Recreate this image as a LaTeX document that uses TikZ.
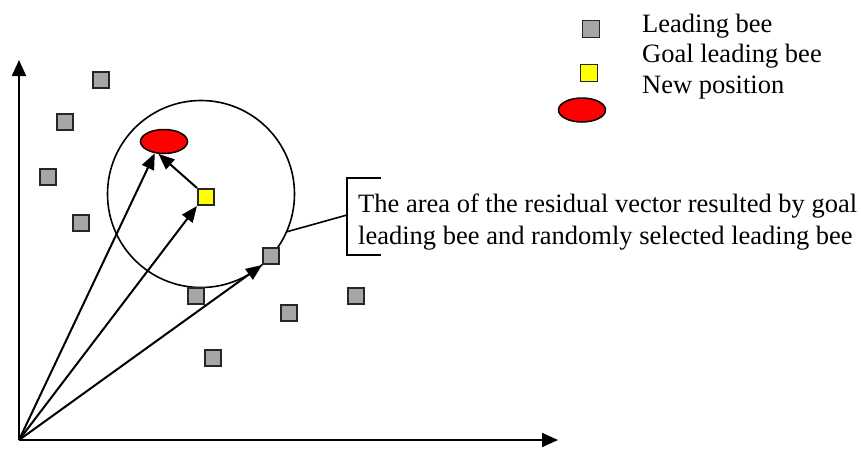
\documentclass[tikz,border=0pt]{standalone}
\usepackage{fontspec}
\setmainfont{Liberation Serif}
\usetikzlibrary{arrows.meta,shapes.geometric}
\definecolor{beegray}{HTML}{A6A6A6}
\definecolor{beeyellow}{HTML}{FFFF00}
\definecolor{beered}{HTML}{FF0000}
\begin{document}
\begin{tikzpicture}[x={(1pt,0)},y={(0,-1pt)},
  lead/.style={draw=black!85,line width=1.6pt,fill=beegray,minimum size=16.5pt,inner sep=0pt},
  goal/.style={draw=black!85,line width=1.6pt,fill=beeyellow,minimum size=16.5pt,inner sep=0pt},
  newpos/.style={ellipse,draw=black,line width=1.5pt,fill=beered,minimum width=47pt,minimum height=24pt,inner sep=0pt},
  txt/.style={font=\fontsize{26.5}{30}\selectfont,inner sep=0pt,anchor=base west},
  vec/.style={line width=2pt,-{Triangle[length=16pt,width=13pt]}},
  axis/.style={line width=2pt,-{Triangle[length=16pt,width=14pt]}},
  thin/.style={line width=1.6pt}]
\useasboundingbox (0,0) rectangle (861,448);
% axes
\coordinate (O) at (19,440);
\coordinate (ytop) at (19,60);
\coordinate (xend) at (558,440);
\draw[axis] (O) -- (ytop);
\draw[axis] (O) -- (xend);
% circle
\node[circle,draw,thin,minimum size=187pt,inner sep=0pt] (area) at (201,194) {};
% leading bees
\node[lead] (g1) at (101,80) {};
\node[lead] (g2) at (65,122) {};
\node[lead] (g3) at (48,177) {};
\node[lead] (g4) at (81,223) {};
\node[lead] (g5) at (196,296) {};
\node[lead] (g6) at (271,256) {};
\node[lead] (g7) at (289,313) {};
\node[lead] (g8) at (356,296) {};
\node[lead] (g9) at (213,358) {};
% goal bee
\node[goal] (goal) at (206,197) {};
% new position
\node[newpos] (new) at (164,141.5) {};
% vectors
\draw[vec] (O) -- (new.232);
\draw[vec] (goal.north west) -- (new.246);
\draw[vec] (O) -- (goal.south west);
\draw[vec] (O) -- (g6.south west);
% callout
\coordinate (cA) at (286,232);
\coordinate (cB) at (347,215);
\coordinate (bt) at (347,178);
\coordinate (bb) at (347,255);
\coordinate (btr) at (381,178);
\coordinate (bbr) at (381,255);
\draw[thin] (cA) -- (cB);
\draw[thin] (btr) -- (bt) -- (bb) -- (bbr);
\node[txt] (c1) at (358,212) {The area of the residual vector resulted by goal};
\node[txt] (c2) at (358,244) {leading bee and randomly selected leading bee};
% legend
\node[lead,minimum size=17pt] (lg1) at (591,29) {};
\node[goal,minimum size=17pt] (lg2) at (589,73) {};
\node[newpos] (lg3) at (582,110) {};
\node[txt] (l1) at (642,32) {Leading bee};
\node[txt] (l2) at (642,62) {Goal leading bee};
\node[txt] (l3) at (642,93) {New position};
\end{tikzpicture}
\end{document}
